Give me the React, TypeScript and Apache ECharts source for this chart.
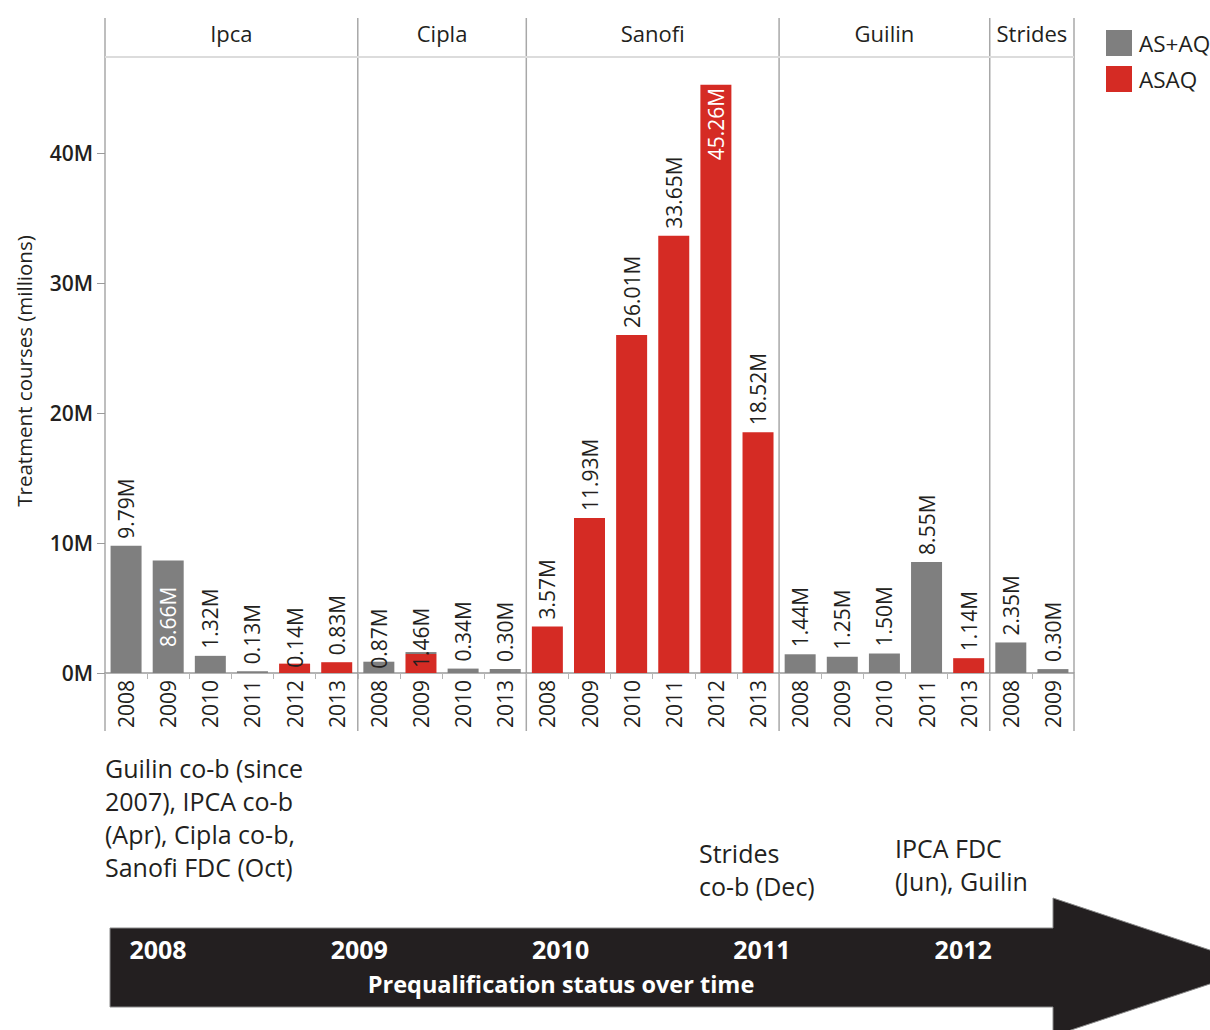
import React, { useEffect, useRef } from 'react';
import * as echarts from 'echarts';

const companies = ['Ipca', 'Cipla', 'Sanofi', 'Guilin', 'Strides'];
const ipcaYears = ['2008', '2009', '2010', '2011', '2012', '2013'];
const ciplaYears = ['2008', '2009', '2010', '2013'];
const sanofiYears = ['2008', '2009', '2010', '2011', '2012', '2013'];
const guilinYears = ['2008', '2009', '2010', '2011', '2013'];
const stridesYears = ['2008', '2009'];
const yearsByCompany = [ipcaYears, ciplaYears, sanofiYears, guilinYears, stridesYears];

// AS+AQ (grey), in category order
const asAqValues = [
  9.79, 8.66, 1.32, 0.13, null, null,
  0.87, 0.15, 0.34, 0.30,
  null, null, null, null, null, null,
  1.44, 1.25, 1.50, 8.55, null,
  2.35, 0.30,
];
// ASAQ (red), in category order
const asaqValues = [
  null, null, null, null, 0.72, 0.83,
  null, 1.46, null, null,
  3.57, 11.93, 26.01, 33.65, 45.26, 18.52,
  null, null, null, null, 1.14,
  null, null,
];
const barLabels = [
  '9.79M', '8.66M', '1.32M', '0.13M', '0.14M', '0.83M',
  '0.87M', '1.46M', '0.34M', '0.30M',
  '3.57M', '11.93M', '26.01M', '33.65M', '45.26M', '18.52M',
  '1.44M', '1.25M', '1.50M', '8.55M', '1.14M',
  '2.35M', '0.30M',
];
const yTicks = [0, 10, 20, 30, 40];
const timelineYears = ['2008', '2009', '2010', '2011', '2012'];
const annotations = [
  'Guilin co-b (since\n2007), IPCA co-b\n(Apr), Cipla co-b,\nSanofi FDC (Oct)',
  'Strides\nco-b (Dec)',
  'IPCA FDC\n(Jun), Guilin',
];

const FONT = '"Open Sans", "Noto Sans", sans-serif';
const INK = '#231f20';
const GREY = '#7f7f7f';
const RED = '#d52b24';

export default function App() {
  const ref = useRef<HTMLDivElement>(null);

  useEffect(() => {
    const chart = echarts.init(ref.current!, null, { renderer: 'svg' });

    const categories: string[] = [];
    companies.forEach((c, ci) => yearsByCompany[ci].forEach((y) => categories.push(c + '|' + y)));

    const gridLeft = 105;
    const gridTop = 57;
    const gridWidth = 969;
    const gridHeight = 616;
    const band = gridWidth / categories.length;

    const bounds: number[] = [gridLeft];
    let acc = 0;
    yearsByCompany.forEach((ys) => {
      acc += ys.length;
      bounds.push(gridLeft + band * acc);
    });

    const labelFor = (i: number) => {
      const base: any = {
        show: true,
        rotate: 90,
        position: 'top',
        align: 'left',
        verticalAlign: 'middle',
        distance: 7,
        fontSize: 21,
        fontFamily: FONT,
        color: INK,
        formatter: barLabels[i],
      };
      const txt = barLabels[i];
      if (txt === '8.66M') Object.assign(base, { position: 'inside', align: 'center', color: '#fff' });
      if (txt === '45.26M') Object.assign(base, { position: 'insideTop', align: 'right', distance: 3, color: '#fff' });
      if (txt === '0.87M') base.distance = -7;
      if (txt === '1.46M') base.distance = -14;
      if (txt === '0.14M') base.distance = -4;
      return base;
    };

    const redData = asaqValues.map((v, i) =>
      v == null ? null : { value: v, label: labelFor(i) }
    );
    const greyData = asAqValues.map((v, i) =>
      v == null
        ? null
        : { value: v, label: asaqValues[i] == null ? labelFor(i) : { show: false } }
    );

    const graphics: any[] = [];
    bounds.forEach((x) =>
      graphics.push({
        type: 'line',
        silent: true,
        shape: { x1: x, y1: 18, x2: x, y2: 731 },
        style: { stroke: '#a8a8a8', lineWidth: 1.5 },
      })
    );
    graphics.push({
      type: 'line',
      silent: true,
      shape: { x1: gridLeft, y1: gridTop, x2: gridLeft + gridWidth, y2: gridTop },
      style: { stroke: '#dcdcdc', lineWidth: 2 },
    });
    companies.forEach((c, i) =>
      graphics.push({
        type: 'text',
        x: (bounds[i] + bounds[i + 1]) / 2,
        y: 33,
        style: { text: c, fontSize: 22, fontFamily: FONT, fill: INK, align: 'center', verticalAlign: 'middle' },
      })
    );
    graphics.push({
      type: 'text',
      x: 24,
      y: 371,
      rotation: Math.PI / 2,
      style: {
        text: 'Treatment courses (millions)',
        fontSize: 20.5,
        fontFamily: FONT,
        fill: INK,
        align: 'center',
        verticalAlign: 'middle',
      },
    });
    // annotations
    const annPos = [
      [105, 751],
      [699, 836],
      [895, 831],
    ];
    annotations.forEach((t, i) =>
      graphics.push({
        type: 'text',
        x: annPos[i][0],
        y: annPos[i][1],
        style: {
          text: t,
          fontSize: 25,
          lineHeight: 33,
          fontFamily: FONT,
          fill: INK,
          align: 'left',
          verticalAlign: 'top',
        },
      })
    );
    // timeline arrow
    graphics.push({
      type: 'polygon',
      silent: true,
      shape: {
        points: [
          [110, 928],
          [1053, 928],
          [1053, 898],
          [1261, 967],
          [1053, 1036],
          [1053, 1007],
          [110, 1007],
        ],
      },
      style: { fill: INK, stroke: '#8a8a8a', lineWidth: 1 },
    });
    timelineYears.forEach((y, i) =>
      graphics.push({
        type: 'text',
        x: 158 + i * 201.3,
        y: 949,
        style: {
          text: y,
          fontSize: 25,
          fontWeight: 'bold',
          fontFamily: FONT,
          fill: '#fff',
          align: 'center',
          verticalAlign: 'middle',
        },
      })
    );
    graphics.push({
      type: 'text',
      x: 561,
      y: 984,
      style: {
        text: 'Prequalification status over time',
        fontSize: 23.5,
        fontWeight: 'bold',
        fontFamily: FONT,
        fill: '#fff',
        align: 'center',
        verticalAlign: 'middle',
      },
    });

    chart.setOption({
      animation: false,
      textStyle: { fontFamily: FONT },
      legend: {
        data: ['AS+AQ', 'ASAQ'],
        orient: 'vertical',
        left: 1101,
        top: 25,
        itemWidth: 26,
        itemHeight: 26,
        itemGap: 10,
        icon: 'rect',
        textStyle: { fontSize: 22.5, color: INK, fontFamily: FONT, padding: [0, 0, 0, 2] },
      },
      grid: { left: gridLeft, top: gridTop, width: gridWidth, height: gridHeight, containLabel: false },
      xAxis: {
        type: 'category',
        data: categories,
        axisLine: { show: true, lineStyle: { color: '#9a9a9a', width: 1.5 } },
        axisTick: { show: true, interval: 0, length: 6, lineStyle: { color: '#b5b5b5' } },
        axisLabel: {
          interval: 0,
          rotate: 90,
          margin: 7,
          fontSize: 21,
          color: INK,
          fontFamily: FONT,
          formatter: (v: string) => v.split('|')[1],
        },
        splitLine: { show: false },
      },
      yAxis: {
        type: 'value',
        min: 0,
        max: 47.4,
        axisLine: { show: false },
        splitLine: { show: false },
        axisTick: { show: true, length: 8, lineStyle: { color: '#9a9a9a' }, customValues: yTicks },
        axisLabel: {
          customValues: yTicks,
          formatter: (v: number) => v + 'M',
          fontSize: 21,
          fontWeight: 600,
          color: INK,
          fontFamily: FONT,
          margin: 12,
        },
      },
      series: [
        {
          name: 'ASAQ',
          type: 'bar',
          stack: 'total',
          barWidth: 31,
          itemStyle: { color: RED },
          data: redData,
        },
        {
          name: 'AS+AQ',
          type: 'bar',
          stack: 'total',
          barWidth: 31,
          itemStyle: { color: GREY },
          data: greyData,
        },
      ],
      graphic: graphics,
    });

    return () => chart.dispose();
  }, []);

  return (
    <div
      ref={ref}
      style={{ position: 'absolute', left: 0, top: 0, width: 1210, height: 1030, background: '#fff' }}
    />
  );
}
